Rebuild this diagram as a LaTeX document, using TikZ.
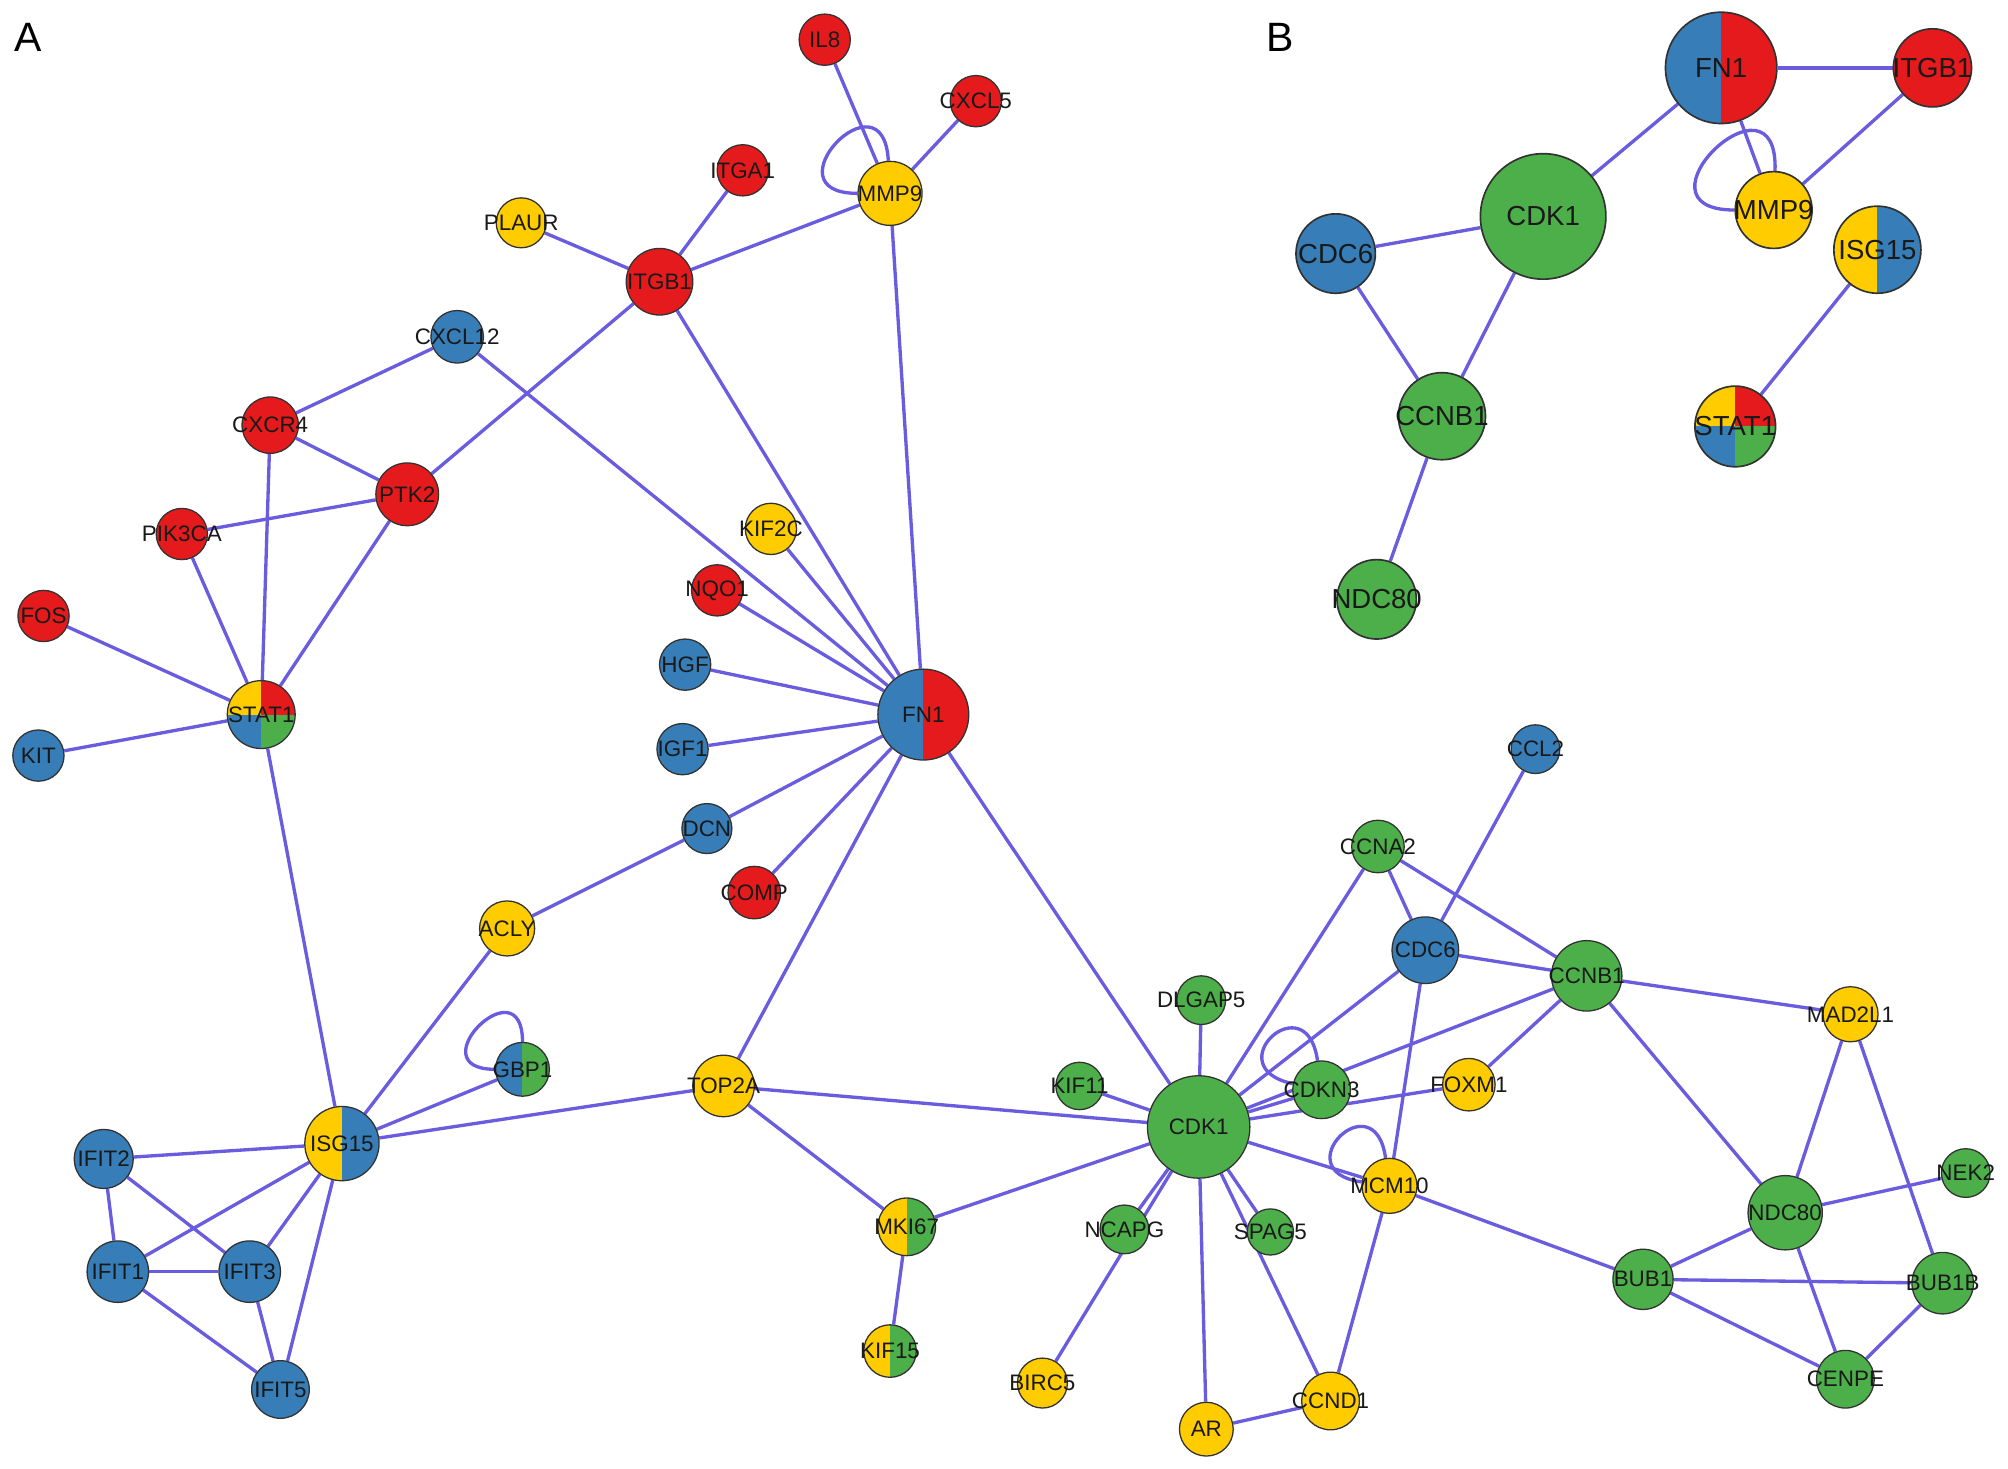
\documentclass[tikz,border=0pt]{standalone}
\usepackage{fontspec}
\setmainfont{Liberation Sans}
\setsansfont{Liberation Sans}
\pgfdeclarelayer{bg}
\pgfsetlayers{bg,main}
\definecolor{cred}{RGB}{228,26,28}
\definecolor{cblue}{RGB}{55,126,184}
\definecolor{cgreen}{RGB}{77,175,74}
\definecolor{cyel}{RGB}{255,204,0}
\definecolor{cedge}{RGB}{106,92,222}
\definecolor{cborder}{RGB}{50,50,50}
\tikzset{
  gnode/.style={circle, draw=cborder, line width=1pt, inner sep=0pt},
  fr/.style={fill=cred}, fb/.style={fill=cblue}, fg/.style={fill=cgreen}, fy/.style={fill=cyel},
  halfpie/.style 2 args={path picture={
      \fill[#1] (path picture bounding box.south west) rectangle (path picture bounding box.north);
      \fill[#2] (path picture bounding box.south) rectangle (path picture bounding box.north east);}},
  quadpie/.style={path picture={
      \fill[cyel] (path picture bounding box.north west) rectangle (path picture bounding box.center);
      \fill[cred] (path picture bounding box.north) rectangle (path picture bounding box.east);
      \fill[cblue] (path picture bounding box.west) rectangle (path picture bounding box.south);
      \fill[cgreen] (path picture bounding box.center) rectangle (path picture bounding box.south east);}},
  alab/.style={font=\fontsize{17.5}{17.5}\selectfont, text=black!90, inner sep=0pt},
  blab/.style={font=\fontsize{21.5}{21.5}\selectfont, text=black!90, inner sep=0pt},
  lnk/.style={draw=cedge, line width=2.6pt},
  panel/.style={font=\fontsize{32}{32}\selectfont, inner sep=0pt},
}
\newcommand\gA[6]{\node[gnode,minimum size=#4*2pt,#5] (A-#1) at (#2,#3) {};
  \node[alab] (A-#1-l) at (A-#1.center) {#6};}
\newcommand\gB[6]{\node[gnode,line width=1.3pt,minimum size=#4*2pt,#5] (B-#1) at (#2,#3) {};
  \node[blab] (B-#1-l) at (B-#1.center) {#6};}
\begin{document}
\begin{tikzpicture}[x=1pt,y=-1pt]
\useasboundingbox (0,0) rectangle (1568,1147);
\node[panel] (labA) at (22,29) {A};
\node[panel] (labB) at (1000,29) {B};
% ---------- Panel A nodes ----------
\gA{IL8}{644}{31}{20}{fr}{IL8}
\gA{CXCL5}{762}{79}{20}{fr}{CXCL5}
\gA{ITGA1}{580}{133}{20}{fr}{ITGA1}
\gA{MMP9}{695}{151}{25}{fy}{MMP9}
\gA{PLAUR}{407}{174}{19.5}{fy}{PLAUR}
\gA{ITGB1}{515}{220}{26}{fr}{ITGB1}
\gA{CXCL12}{357}{263}{20.5}{fb}{CXCL12}
\gA{CXCR4}{211}{332}{22}{fr}{CXCR4}
\gA{PTK2}{318}{386}{24.5}{fr}{PTK2}
\gA{PIK3CA}{142}{417}{20}{fr}{PIK3CA}
\gA{KIF2C}{602}{413}{20}{fy}{KIF2C}
\gA{NQO1}{560}{461}{20}{fr}{NQO1}
\gA{FOS}{34}{481}{20}{fr}{FOS}
\gA{HGF}{535}{519}{20}{fb}{HGF}
\gA{STAT1}{204}{558}{26.5}{quadpie}{STAT1}
\gA{FN1}{721}{558}{35.5}{halfpie={cblue}{cred}}{FN1}
\gA{KIT}{30}{590}{20}{fb}{KIT}
\gA{IGF1}{533}{585}{20}{fb}{IGF1}
\gA{DCN}{552}{647}{19.5}{fb}{DCN}
\gA{COMP}{589}{697}{20.5}{fr}{COMP}
\gA{ACLY}{396}{725}{21.5}{fy}{ACLY}
\gA{GBP1}{408}{835}{21}{halfpie={cblue}{cgreen}}{GBP1}
\gA{TOP2A}{565}{848}{24}{fy}{TOP2A}
\gA{ISG15}{267}{893}{29}{halfpie={cyel}{cblue}}{ISG15}
\gA{IFIT2}{81}{905}{23}{fb}{IFIT2}
\gA{IFIT1}{92}{993}{24}{fb}{IFIT1}
\gA{IFIT3}{195}{993}{24}{fb}{IFIT3}
\gA{IFIT5}{219}{1085}{22.5}{fb}{IFIT5}
\gA{MKI67}{708}{958}{22.5}{halfpie={cyel}{cgreen}}{MKI67}
\gA{KIF15}{695}{1055}{20.5}{halfpie={cyel}{cgreen}}{KIF15}
\gA{CCL2}{1199}{585}{19}{fb}{CCL2}
\gA{CCNA2}{1076}{661}{20.5}{fg}{CCNA2}
\gA{CDC6}{1113}{742}{26}{fb}{CDC6}
\gA{CCNB1}{1239}{762}{27.5}{fg}{CCNB1}
\gA{MAD2L1}{1445}{792}{21.5}{fy}{MAD2L1}
\gA{DLGAP5}{938}{781}{19}{fg}{DLGAP5}
\gA{KIF11}{843}{848}{18.5}{fg}{KIF11}
\gA{CDKN3}{1032}{851}{22.5}{fg}{CDKN3}
\gA{FOXM1}{1147}{847}{20.5}{fy}{FOXM1}
\gA{CDK1}{936}{880}{40}{fg}{CDK1}
\gA{MCM10}{1085}{926}{21.5}{fy}{MCM10}
\gA{NEK2}{1535}{916}{19}{fg}{NEK2}
\gA{NDC80}{1394}{947}{29}{fg}{NDC80}
\gA{NCAPG}{878}{960}{19}{fg}{NCAPG}
\gA{SPAG5}{992}{962}{18}{fg}{SPAG5}
\gA{BUB1}{1283}{999}{23.5}{fg}{BUB1}
\gA{BUB1B}{1517}{1002}{24}{fg}{BUB1B}
\gA{BIRC5}{814}{1080}{19.5}{fy}{BIRC5}
\gA{CENPE}{1441}{1077}{22.5}{fg}{CENPE}
\gA{CCND1}{1039}{1094}{22.5}{fy}{CCND1}
\gA{AR}{942}{1116}{21}{fy}{AR}
% ---------- Panel B nodes ----------
\gB{FN1}{1344}{53}{43.5}{halfpie={cblue}{cred}}{FN1}
\gB{ITGB1}{1509}{53}{30.5}{fr}{ITGB1}
\gB{CDK1}{1205}{169}{49}{fg}{CDK1}
\gB{MMP9}{1385}{164}{30}{fy}{MMP9}
\gB{ISG15}{1466}{195}{34}{halfpie={cyel}{cblue}}{ISG15}
\gB{CDC6}{1043}{198}{31}{fb}{CDC6}
\gB{CCNB1}{1126}{325}{34}{fg}{CCNB1}
\gB{STAT1}{1355}{333}{31.5}{quadpie}{STAT1}
\gB{NDC80}{1075}{468}{31}{fg}{NDC80}
% ---------- connectors ----------
\begin{pgfonlayer}{bg}
\fill[white] (0,0) rectangle (1568,1147);
\foreach \a/\b in {IL8/MMP9, CXCL5/MMP9, ITGA1/ITGB1, PLAUR/ITGB1, ITGB1/MMP9, MMP9/FN1,
  ITGB1/FN1, ITGB1/PTK2, CXCL12/CXCR4, CXCL12/FN1, CXCR4/PTK2, CXCR4/STAT1, PIK3CA/PTK2,
  PIK3CA/STAT1, PTK2/STAT1, FOS/STAT1, KIT/STAT1, STAT1/ISG15, KIF2C/FN1, NQO1/FN1, HGF/FN1,
  IGF1/FN1, DCN/FN1, COMP/FN1, DCN/ACLY, ACLY/ISG15, FN1/TOP2A, FN1/CDK1, GBP1/ISG15,
  ISG15/TOP2A, ISG15/IFIT2, ISG15/IFIT1, ISG15/IFIT3, ISG15/IFIT5, IFIT2/IFIT1, IFIT2/IFIT3,
  IFIT1/IFIT3, IFIT1/IFIT5, IFIT3/IFIT5, TOP2A/CDK1, TOP2A/MKI67, MKI67/CDK1, MKI67/KIF15,
  KIF11/CDK1, DLGAP5/CDK1, CDK1/CCNA2, CDK1/CDC6, CDK1/CDKN3, CDK1/CCNB1, CDK1/FOXM1,
  CDK1/MCM10, CDK1/NCAPG, CDK1/BIRC5, CDK1/SPAG5, CDK1/CCND1, CDK1/AR, CCNA2/CDC6,
  CCNA2/CCNB1, CCL2/CDC6, CDC6/CCNB1, CDC6/MCM10, FOXM1/CCNB1, CCNB1/MAD2L1,
  CCNB1/NDC80, MCM10/BUB1, MCM10/CCND1, AR/CCND1, MAD2L1/NDC80, MAD2L1/BUB1B, NEK2/NDC80,
  NDC80/BUB1, NDC80/CENPE, BUB1/BUB1B, BUB1/CENPE, BUB1B/CENPE}
  {\draw[lnk] (A-\a) -- (A-\b);}
\draw[lnk] (A-MMP9) to[out=180,in=93,min distance=72pt] (A-MMP9);
\draw[lnk] (A-GBP1) to[out=180,in=90,min distance=62pt] (A-GBP1);
\draw[lnk] (A-CDKN3) to[out=168,in=98,min distance=62pt] (A-CDKN3);
\draw[lnk] (A-MCM10) to[out=172,in=98,min distance=62pt] (A-MCM10);
\foreach \a/\b in {FN1/ITGB1, FN1/CDK1, FN1/MMP9, ITGB1/MMP9, CDK1/CDC6, CDK1/CCNB1,
  CDC6/CCNB1, CCNB1/NDC80, ISG15/STAT1}
  {\draw[lnk] (B-\a) -- (B-\b);}
\draw[lnk] (B-MMP9) to[out=180,in=88,min distance=86pt] (B-MMP9);
\end{pgfonlayer}
\end{tikzpicture}
\end{document}
